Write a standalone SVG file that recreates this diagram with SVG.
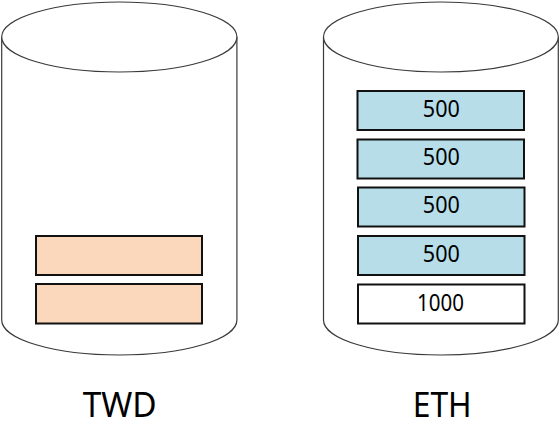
<svg xmlns="http://www.w3.org/2000/svg" width="560" height="442" viewBox="0 0 560 442">
<style>
.cyl{fill:#fff;stroke:#3a3a3a;stroke-width:1.2}
.box{stroke:#111;stroke-width:2}
.twd{fill:#fbd7bb}
.eth{fill:#b7dde8}
.wht{fill:#fff}
.num{font-family:"Noto Sans","Liberation Sans",Arial,sans-serif;font-size:24px;fill:#000;text-anchor:middle}
.lbl{font-family:"Noto Sans","Liberation Sans",Arial,sans-serif;font-size:34px;fill:#000;text-anchor:middle}
</style>
<rect width="560" height="442" fill="#fff"/>
<g id="twd-cylinder">
<path class="cyl" d="M1.7,37 L1.7,320 A117.6,35 0 0 0 236.9,320 L236.9,37"/>
<ellipse class="cyl" cx="119.3" cy="37" rx="117.6" ry="35"/>
<rect class="box twd" x="36" y="236" width="166" height="39"/>
<rect class="box twd" x="36" y="284" width="166" height="39.5"/>
<text class="lbl" x="119.7" y="416.5" textLength="74" lengthAdjust="spacingAndGlyphs">TWD</text>
</g>
<g id="eth-cylinder">
<path class="cyl" d="M323.5,37 L323.5,320 A117.4,35 0 0 0 558.3,320 L558.3,37"/>
<ellipse class="cyl" cx="440.9" cy="37" rx="117.4" ry="35"/>
<rect class="box eth" x="357.5" y="91" width="166.5" height="39"/>
<rect class="box eth" x="357.5" y="139.5" width="166.5" height="39"/>
<rect class="box eth" x="358" y="187.5" width="166.5" height="39"/>
<rect class="box eth" x="358" y="236" width="166.5" height="39"/>
<rect class="box wht" x="358" y="284.5" width="166.5" height="39"/>
<text class="num" x="441.3" y="116.7" textLength="37" lengthAdjust="spacingAndGlyphs">500</text>
<text class="num" x="441.3" y="165.2" textLength="37" lengthAdjust="spacingAndGlyphs">500</text>
<text class="num" x="441.3" y="213.2" textLength="37" lengthAdjust="spacingAndGlyphs">500</text>
<text class="num" x="441.3" y="261.7" textLength="37" lengthAdjust="spacingAndGlyphs">500</text>
<text class="num" x="440.4" y="310.5" textLength="47" lengthAdjust="spacingAndGlyphs">1000</text>
<text class="lbl" x="442.2" y="416.5" textLength="59" lengthAdjust="spacingAndGlyphs">ETH</text>
</g>
</svg>
